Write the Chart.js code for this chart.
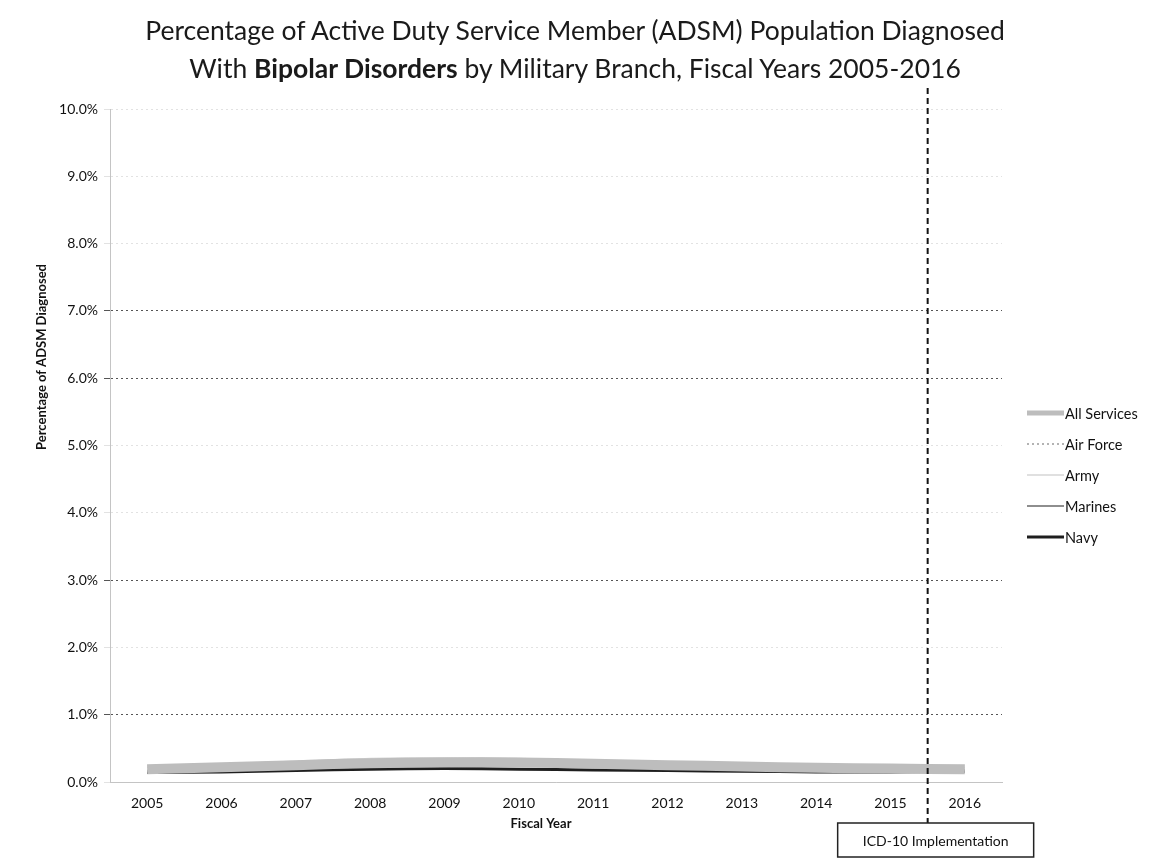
<!DOCTYPE html>
<html>
<head>
<meta charset="utf-8">
<script src="https://cdn.jsdelivr.net/npm/chart.js@4.4.0/dist/chart.umd.min.js"></script>
<style>
  html, body { margin: 0; padding: 0; background: #fff; }
  #wrap { position: relative; width: 1152px; height: 860px; }
  #title {
    position: absolute; left: 0; top: 11px; width: 1150px; text-align: center;
    font-family: Lato, "Open Sans", sans-serif; font-size: 26.5px; line-height: 38px; color: #1a1a1a;
  }
  #title b { font-weight: 700; }
  canvas { position: absolute; left: 0; top: 0; }
</style>
</head>
<body>
<div id="wrap">
  <canvas id="c" width="1152" height="860"></canvas>
  <div id="title">Percentage of Active Duty Service Member (ADSM) Population Diagnosed<br>With <b>Bipolar Disorders</b> by Military Branch, Fiscal Years 2005-2016</div>
</div>
<script>
// Fiscal years on the category axis
const fiscalYears = ['2005','2006','2007','2008','2009','2010','2011','2012','2013','2014','2015','2016'];

// Percent of ADSM diagnosed, per branch
const allServices = [0.19, 0.22, 0.25, 0.28, 0.29, 0.29, 0.27, 0.25, 0.23, 0.21, 0.20, 0.19];
const airForce    = [0.17, 0.19, 0.21, 0.23, 0.24, 0.24, 0.23, 0.22, 0.21, 0.20, 0.19, 0.19];
const army        = [0.22, 0.26, 0.31, 0.35, 0.36, 0.35, 0.32, 0.29, 0.26, 0.24, 0.22, 0.21];
const marines     = [0.16, 0.18, 0.21, 0.24, 0.25, 0.25, 0.23, 0.21, 0.19, 0.18, 0.17, 0.17];
const navy        = [0.14, 0.15, 0.17, 0.19, 0.20, 0.19, 0.18, 0.17, 0.16, 0.15, 0.15, 0.16];

// Y tick values (percent)
const yTicks = [0, 1, 2, 3, 4, 5, 6, 7, 8, 9, 10];
// Gridlines that print darker
const strongGrid = [1, 3, 6, 7];

const FONT = 'Lato, "Open Sans", sans-serif';

// Dashed marker between FY2015 and FY2016 with its caption box
const icdMarker = {
  id: 'icdMarker',
  afterDatasetsDraw(chart) {
    const { ctx, scales: { x } } = chart;
    const px = (x.getPixelForValue(10) + x.getPixelForValue(11)) / 2;
    ctx.save();
    ctx.strokeStyle = '#111';
    ctx.lineWidth = 2;
    ctx.setLineDash([6, 4]);
    ctx.beginPath();
    ctx.moveTo(px, 88);
    ctx.lineTo(px, 823);
    ctx.stroke();
    ctx.setLineDash([]);
    const bw = 196, bh = 34, bx = px - 90, by = 823;
    ctx.fillStyle = '#fff';
    ctx.fillRect(bx, by, bw, bh);
    ctx.lineWidth = 1.5;
    ctx.strokeStyle = '#222';
    ctx.strokeRect(bx, by, bw, bh);
    ctx.fillStyle = '#111';
    ctx.font = '14px ' + FONT;
    ctx.textAlign = 'center';
    ctx.textBaseline = 'middle';
    ctx.fillText('ICD-10 Implementation', bx + bw / 2, by + bh / 2 + 1);
    ctx.restore();
  }
};

// Axis titles and the right-hand legend
const sideText = {
  id: 'sideText',
  afterDraw(chart) {
    const { ctx } = chart;
    ctx.save();
    ctx.fillStyle = '#111';
    ctx.font = 'bold 13px ' + FONT;
    ctx.textAlign = 'center';
    ctx.textBaseline = 'middle';
    ctx.translate(42, 357);
    ctx.rotate(-Math.PI / 2);
    ctx.fillText('Percentage of ADSM Diagnosed', 0, 0);
    ctx.restore();

    ctx.save();
    ctx.fillStyle = '#111';
    ctx.font = 'bold 13px ' + FONT;
    ctx.textAlign = 'center';
    ctx.textBaseline = 'middle';
    ctx.fillText('Fiscal Year', 541, 824);
    ctx.restore();

    // legend
    ctx.save();
    chart.data.datasets.forEach((ds, i) => {
      const y = 413 + i * 31;
      ctx.strokeStyle = ds.borderColor;
      ctx.lineWidth = Math.min(ds.borderWidth, 5);
      ctx.setLineDash(ds.borderDash || []);
      ctx.beginPath();
      ctx.moveTo(1027, y);
      ctx.lineTo(1064, y);
      ctx.stroke();
      ctx.setLineDash([]);
      ctx.fillStyle = '#111';
      ctx.font = '14.5px ' + FONT;
      ctx.textAlign = 'left';
      ctx.textBaseline = 'middle';
      ctx.fillText(ds.label, 1065, y + 1);
    });
    ctx.restore();
  }
};

new Chart(document.getElementById('c'), {
  type: 'line',
  data: {
    labels: fiscalYears,
    datasets: [
      { label: 'All Services', data: allServices, borderColor: '#bdbdbd', borderWidth: 10, pointRadius: 0, tension: 0.3 },
      { label: 'Air Force', data: airForce, borderColor: '#9a9a9a', borderWidth: 1.5, borderDash: [2, 3], pointRadius: 0, tension: 0.3 },
      { label: 'Army', data: army, borderColor: '#d6d6d6', borderWidth: 1.5, pointRadius: 0, tension: 0.3 },
      { label: 'Marines', data: marines, borderColor: '#8e8e8e', borderWidth: 2, pointRadius: 0, tension: 0.3 },
      { label: 'Navy', data: navy, borderColor: '#1e1e1e', borderWidth: 3, pointRadius: 0, tension: 0.3 }
    ]
  },
  options: {
    responsive: false,
    animation: false,
    layout: { padding: { left: 0, top: 109, right: 150, bottom: 0 } },
    plugins: {
      legend: { display: false },
      title: { display: false },
      tooltip: { enabled: false }
    },
    scales: {
      x: {
        offset: true,
        grid: { display: false, drawTicks: false },
        border: { display: true, color: '#c4c4c4', dash: [2, 3] },
        ticks: { color: '#111', font: { family: FONT, size: 14 }, padding: 13, maxRotation: 0 },
        afterFit(scale) { scale.height = 78; }
      },
      y: {
        min: 0,
        max: 10,
        afterBuildTicks(scale) { scale.ticks = yTicks.map(v => ({ value: v })); },
        grid: {
          color: c => strongGrid.includes(c.tick && c.tick.value) ? '#555555' : '#e2e2e2',
          lineWidth: 1,
          tickLength: 6
        },
        border: { display: true, color: '#c4c4c4', dash: [2, 3] },
        ticks: {
          color: '#111',
          font: { family: FONT, size: 14 },
          padding: 6,
          callback: v => v.toFixed(1) + '%'
        },
        afterFit(scale) { scale.width = 110; }
      }
    }
  },
  plugins: [icdMarker, sideText]
});
</script>
</body>
</html>
